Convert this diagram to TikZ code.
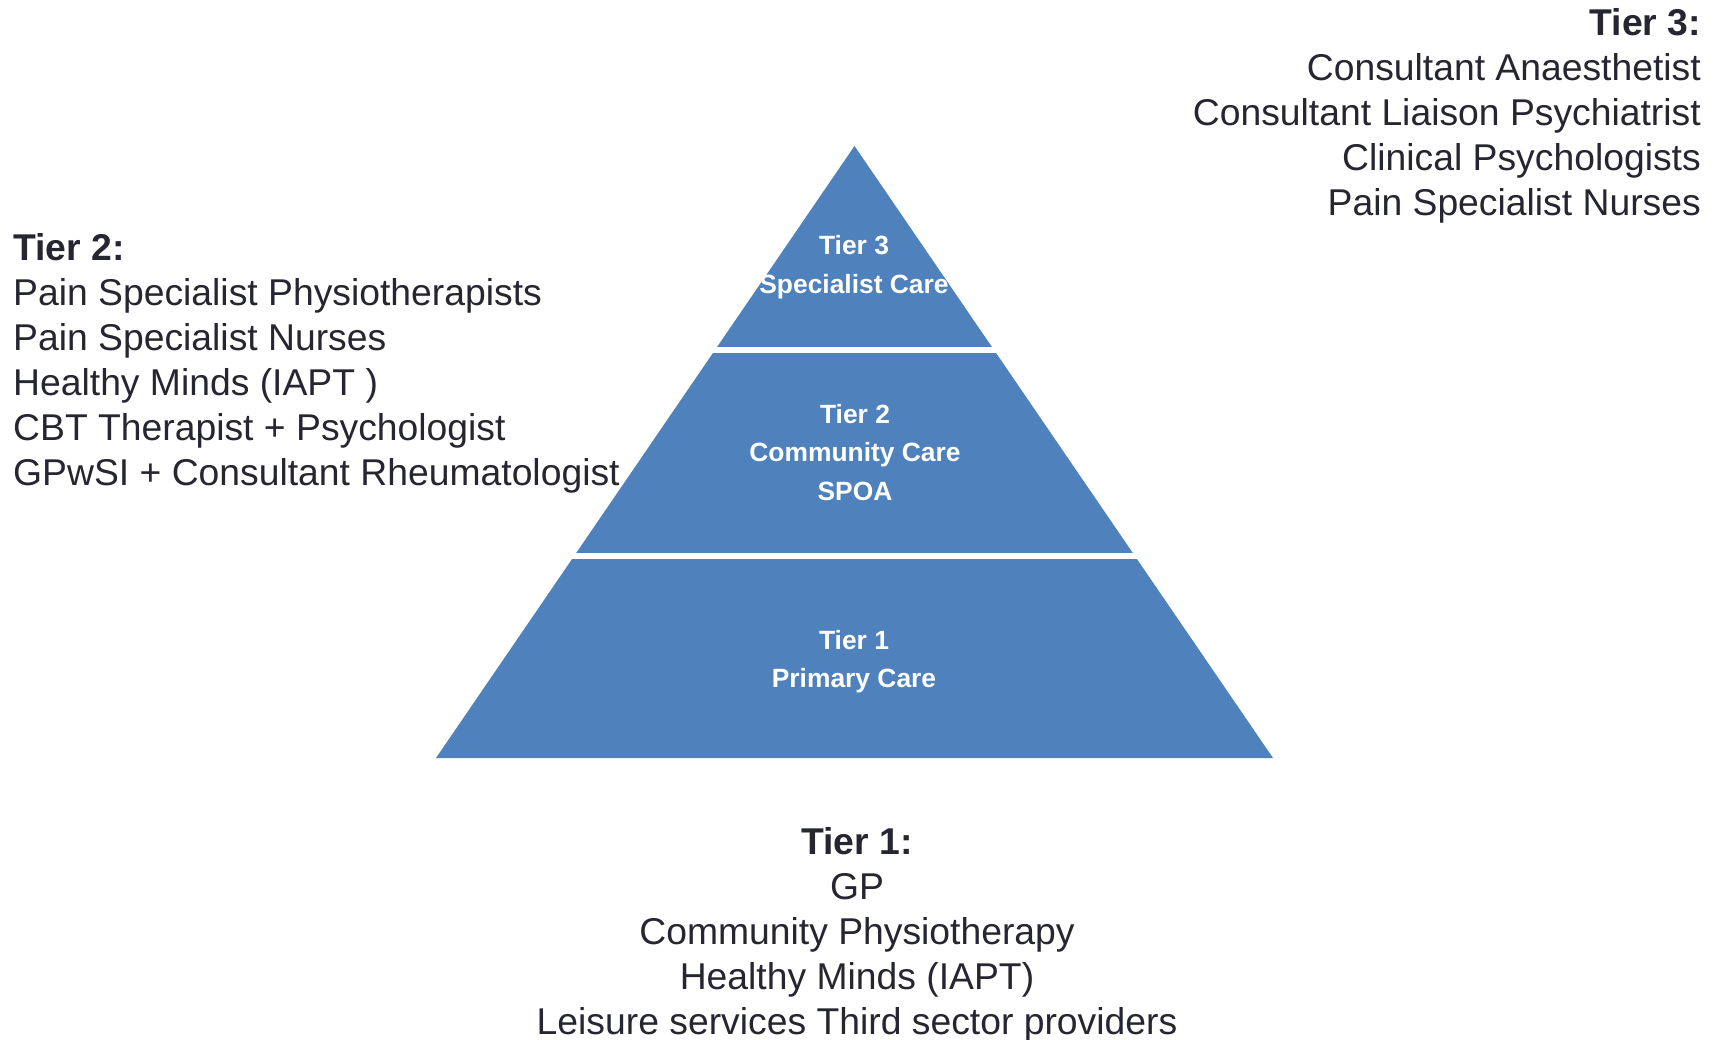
\documentclass[tikz,border=0pt]{standalone}
\usepackage{fontspec}
\setmainfont{Liberation Sans}
\definecolor{pyrblue}{HTML}{4F81BD}
\definecolor{txtdark}{HTML}{262630}
\tikzset{
  listtext/.style={text=txtdark, inner sep=0pt, font=\fontsize{37.3}{45}\selectfont},
  tierlabel/.style={text=white, inner sep=0pt, align=center, font=\fontsize{26.4}{38.5}\selectfont\bfseries},
}
\begin{document}
\begin{tikzpicture}[x=1pt,y=-1pt]
\useasboundingbox (0,0) rectangle (1723,1040);
% pyramid
\coordinate (apex) at (854.5,146);
\coordinate (bl) at (436,758);
\coordinate (br) at (1273,758);
\fill[pyrblue] (apex) -- (br) -- (bl) -- cycle;
\fill[white] (400,347) rectangle (1300,352.5);
\fill[white] (400,553) rectangle (1300,558.5);
% labels inside pyramid (anchor = baseline of last line)
\node[tierlabel, anchor=base] (t3in) at (854,293.5) {Tier 3\\Specialist Care};
\node[tierlabel, anchor=base] (t2in) at (855,500) {Tier 2\\Community Care\\SPOA};
\node[tierlabel, anchor=base] (t1in) at (854,687.5) {Tier 1\\Primary Care};
% side texts
\node[listtext, align=left, anchor=base west] (t2list) at (13,485)
  {\textbf{Tier 2:}\\Pain Specialist Physiotherapists\\Pain Specialist Nurses\\Healthy Minds (IAPT )\\CBT Therapist + Psychologist\\GPwSI + Consultant Rheumatologist};
\node[listtext, align=right, anchor=base east] (t3list) at (1701,216)
  {\textbf{Tier 3:}\\Consultant Anaesthetist\\Consultant Liaison Psychiatrist\\Clinical Psychologists\\Pain Specialist Nurses};
\node[listtext, align=center, anchor=base] (t1list) at (857,1034)
  {\textbf{Tier 1:}\\GP\\Community Physiotherapy\\Healthy Minds (IAPT)\\Leisure services Third sector providers};
\end{tikzpicture}
\end{document}
